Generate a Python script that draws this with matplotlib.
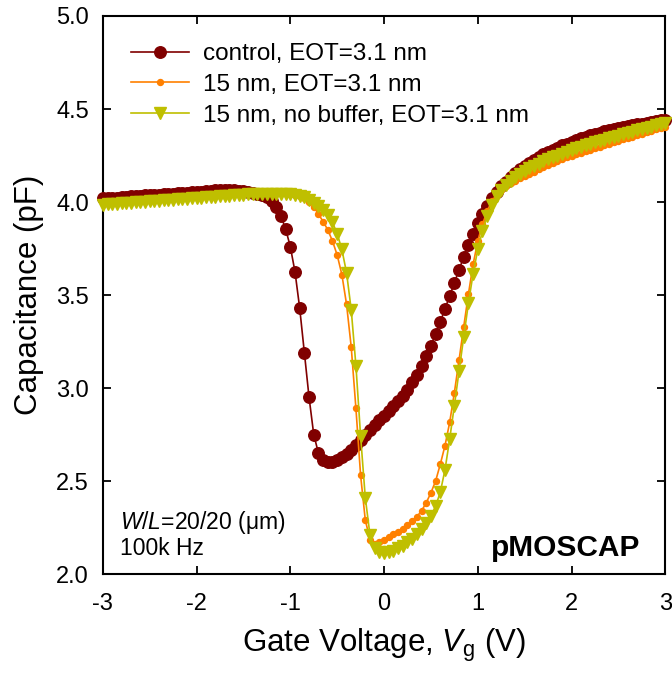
import numpy as np
import matplotlib
matplotlib.use("Agg")
import matplotlib.pyplot as plt

plt.rcParams['font.family'] = ['Liberation Sans', 'DejaVu Sans']
plt.rcParams['mathtext.fontset'] = 'custom'
plt.rcParams['mathtext.rm'] = 'Liberation Sans'
plt.rcParams['mathtext.it'] = 'Liberation Sans:italic'

# Gate voltage grid (V), 0.05 V step
vg = np.round(np.arange(-3.0, 3.0001, 0.05), 2)

control = [
    4.020, 4.021, 4.023, 4.024, 4.026, 4.028, 4.030, 4.031, 4.033, 4.035,
    4.037, 4.038, 4.040, 4.041, 4.043, 4.045, 4.047, 4.048, 4.050, 4.052,
    4.054, 4.056, 4.058, 4.060, 4.063, 4.065, 4.066, 4.066, 4.064, 4.061,
    4.057, 4.053, 4.048, 4.043, 4.036, 4.025, 4.005, 3.975, 3.925, 3.855,
    3.760, 3.625, 3.430, 3.190, 2.950, 2.750, 2.650, 2.612, 2.600, 2.602,
    2.612, 2.628, 2.646, 2.668, 2.694, 2.720, 2.748, 2.775, 2.802, 2.828,
    2.852, 2.877, 2.902, 2.928, 2.958, 2.992, 3.030, 3.072, 3.118, 3.170,
    3.228, 3.290, 3.355, 3.425, 3.495, 3.565, 3.635, 3.705, 3.770, 3.830,
    3.885, 3.935, 3.980, 4.020, 4.055, 4.085, 4.110, 4.135, 4.155, 4.175,
    4.195, 4.212, 4.228, 4.243, 4.257, 4.270, 4.282, 4.293, 4.304, 4.314,
    4.324, 4.333, 4.342, 4.350, 4.358, 4.366, 4.373, 4.380, 4.386, 4.392,
    4.398, 4.403, 4.408, 4.413, 4.418, 4.422, 4.427, 4.431, 4.435, 4.439,
    4.443,
]

buffer15 = [
    4.000, 4.001, 4.003, 4.004, 4.006, 4.007, 4.009, 4.010, 4.012, 4.013,
    4.015, 4.016, 4.018, 4.019, 4.021, 4.022, 4.024, 4.025, 4.027, 4.028,
    4.030, 4.031, 4.033, 4.034, 4.036, 4.037, 4.039, 4.040, 4.042, 4.043,
    4.045, 4.046, 4.047, 4.048, 4.049, 4.050, 4.050, 4.049, 4.048, 4.046,
    4.043, 4.038, 4.031, 4.020, 4.002, 3.975, 3.935, 3.895, 3.850, 3.790,
    3.715, 3.610, 3.450, 3.220, 2.890, 2.530, 2.290, 2.185, 2.162, 2.170,
    2.185, 2.200, 2.213, 2.227, 2.243, 2.262, 2.283, 2.308, 2.340, 2.383,
    2.437, 2.500, 2.590, 2.690, 2.815, 2.975, 3.150, 3.330, 3.505, 3.665,
    3.790, 3.880, 3.950, 4.005, 4.040, 4.065, 4.085, 4.100, 4.115, 4.128,
    4.140, 4.152, 4.163, 4.175, 4.186, 4.197, 4.208, 4.219, 4.229, 4.240,
    4.250, 4.258, 4.266, 4.274, 4.282, 4.290, 4.298, 4.306, 4.314, 4.322,
    4.330, 4.337, 4.345, 4.352, 4.360, 4.367, 4.375, 4.382, 4.390, 4.397,
    4.405,
]

nobuffer15 = [
    3.985, 3.987, 3.989, 3.990, 3.992, 3.994, 3.996, 3.998, 3.999, 4.001,
    4.003, 4.005, 4.007, 4.009, 4.010, 4.012, 4.014, 4.016, 4.018, 4.019,
    4.021, 4.023, 4.025, 4.027, 4.029, 4.030, 4.032, 4.034, 4.036, 4.038,
    4.040, 4.041, 4.042, 4.043, 4.044, 4.045, 4.045, 4.045, 4.044, 4.043,
    4.041, 4.038, 4.033, 4.025, 4.013, 3.997, 3.977, 3.955, 3.930, 3.890,
    3.830, 3.745, 3.620, 3.420, 3.120, 2.740, 2.410, 2.210, 2.140, 2.120,
    2.115, 2.118, 2.126, 2.138, 2.152, 2.170, 2.190, 2.213, 2.240, 2.272,
    2.312, 2.365, 2.440, 2.560, 2.725, 2.905, 3.090, 3.275, 3.455, 3.615,
    3.745, 3.845, 3.925, 3.985, 4.030, 4.065, 4.093, 4.115, 4.135, 4.152,
    4.167, 4.181, 4.194, 4.206, 4.218, 4.229, 4.240, 4.250, 4.260, 4.269,
    4.280, 4.288, 4.296, 4.304, 4.312, 4.320, 4.328, 4.335, 4.343, 4.350,
    4.357, 4.364, 4.371, 4.378, 4.385, 4.392, 4.399, 4.405, 4.412, 4.418,
    4.425,
]

labels = ["control, EOT=3.1 nm", "15 nm, EOT=3.1 nm", "15 nm, no buffer, EOT=3.1 nm"]
xticks = [-3, -2, -1, 0, 1, 2, 3]
yticks = [2.0, 2.5, 3.0, 3.5, 4.0, 4.5, 5.0]

fig = plt.figure(figsize=(6.72, 6.75), dpi=100)
ax = fig.add_axes([0.153, 0.1496, 0.837, 0.8267])

ax.plot(vg, control, '-o', color='#800000', lw=1.2, ms=8.3, mec='#800000',
        label=labels[0], clip_on=False, zorder=3)
ax.plot(vg, buffer15, '-o', color='#ff8000', lw=1.2, ms=4.3, mec='#ff8000',
        label=labels[1], clip_on=False, zorder=4)
ax.plot(vg, nobuffer15, '-v', color='#bfbf00', lw=1.2, ms=8.3, mec='#bfbf00',
        label=labels[2], clip_on=False, zorder=5)

ax.set_xlim(-3, 3)
ax.set_ylim(2.0, 5.0)
ax.set_xticks(xticks)
ax.set_xticklabels([str(t) for t in xticks])
ax.set_yticks(yticks)
ax.set_yticklabels([f"{t:.1f}" for t in yticks])
ax.tick_params(direction='in', length=6, width=1.3, top=True, right=True,
               labelsize=17)
ax.tick_params(axis='x', pad=14)
ax.tick_params(axis='y', pad=10)
for s in ax.spines.values():
    s.set_linewidth(1.5)

ax.set_xlabel(r"Gate Voltage, $V_{\mathrm{g}}$ (V)", fontsize=22.5, labelpad=8)
ax.set_ylabel("Capacitance (pF)", fontsize=22.5, labelpad=9)

leg = ax.legend(loc='upper left', bbox_to_anchor=(0.02, 0.982), frameon=False,
                fontsize=17.5, handlelength=2.4, handletextpad=0.55,
                labelspacing=0.36, borderaxespad=0.3)

ax.text(0.03, 0.093, r"$\it{W}$/$\it{L}$=20/20 ($\mathrm{\mu}$m)", transform=ax.transAxes,
        fontsize=16.5, va='center', ha='left')
ax.text(0.03, 0.046, "100k Hz", transform=ax.transAxes,
        fontsize=16.5, va='center', ha='left')
ax.text(0.955, 0.046, "pMOSCAP", transform=ax.transAxes, fontsize=21.5,
        fontweight='bold', va='center', ha='right')

fig.savefig("out.png", dpi=100)
